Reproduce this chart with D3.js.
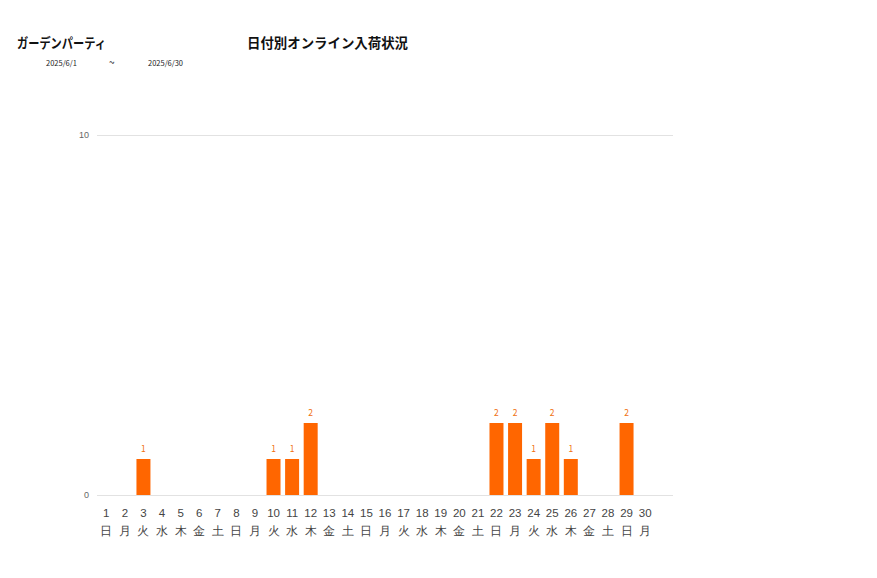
<!DOCTYPE html>
<html>
<head>
<meta charset="utf-8">
<script src="https://cdn.jsdelivr.net/npm/d3@7"></script>
<style>
  body { margin: 0; background: #fff; }
  svg { font-family: "Noto Sans CJK JP", "Noto Sans", sans-serif; }
</style>
</head>
<body>
<div id="chart"></div>
<script>
const shopName = "ガーデンパーティ";
const chartTitle = "日付別オンライン入荷状況";
const dateFrom = "2025/6/1";
const dateTo = "2025/6/30";

// 31 slots (month layout), last one empty
const days = ["1","2","3","4","5","6","7","8","9","10","11","12","13","14","15","16","17","18","19","20","21","22","23","24","25","26","27","28","29","30",""];
const weekdays = ["日","月","火","水","木","金","土","日","月","火","水","木","金","土","日","月","火","水","木","金","土","日","月","火","水","木","金","土","日","月",""];
const counts = [0,0,1,0,0,0,0,0,0,1,1,2,0,0,0,0,0,0,0,0,0,2,2,1,2,1,0,0,2,0,0];
const yTicks = [0, 10];

const width = 877,
  height = 578;
const margin = { left: 97, right: 204, top: 135, bottom: 83 };

const svg = d3
  .select("#chart")
  .append("svg")
  .attr("width", width)
  .attr("height", height);

const x = d3
  .scaleBand()
  .domain(d3.range(days.length))
  .range([margin.left, width - margin.right])
  .paddingInner(0.247)
  .paddingOuter(0.1235);

const y = d3
  .scaleLinear()
  .domain([0, 10])
  .range([height - margin.bottom, margin.top]);

// header
svg.append("text").attr("x", 17).attr("y", 48)
  .attr("font-size", 13.5).attr("font-weight", "bold").attr("fill", "#111")
  .attr("textLength", 89).attr("lengthAdjust", "spacingAndGlyphs")
  .text(shopName);
svg.append("text").attr("x", 247).attr("y", 48)
  .attr("font-size", 13.5).attr("font-weight", "bold").attr("fill", "#111")
  .attr("textLength", 161).attr("lengthAdjust", "spacingAndGlyphs")
  .text(chartTitle);
svg.append("text").attr("x", 46).attr("y", 66)
  .attr("font-size", 7.5).attr("fill", "#222").text(dateFrom);
svg.append("text").attr("x", 109).attr("y", 66)
  .attr("font-size", 10).attr("fill", "#222").text("~");
svg.append("text").attr("x", 148).attr("y", 66)
  .attr("font-size", 7.5).attr("fill", "#222").text(dateTo);

// y gridlines
const yAxis = svg.append("g")
  .attr("transform", `translate(${margin.left},0)`)
  .call(d3.axisLeft(y).tickValues(yTicks).tickSize(-(width - margin.left - margin.right)).tickPadding(8));
yAxis.select(".domain").remove();
yAxis.selectAll("line").attr("stroke", "#e2e2e2");
yAxis.selectAll("text").attr("font-size", 9).attr("fill", "#666");

// bars
svg.selectAll(".bar")
  .data(counts)
  .enter()
  .append("rect")
  .attr("class", "bar")
  .attr("x", (d, i) => x(i))
  .attr("width", x.bandwidth())
  .attr("y", d => y(d))
  .attr("height", d => y(0) - y(d))
  .attr("fill", "#ff6600");

// value labels above non-zero bars
counts.forEach((d, i) => {
  if (d > 0) {
    svg.append("text")
      .attr("class", "val")
      .attr("x", x(i) + x.bandwidth() / 2)
      .attr("y", y(d) - 7)
      .attr("font-size", 8.5)
      .attr("fill", "#f07010")
      .attr("text-anchor", "middle")
      .text(d);
  }
});

// x labels: day number + weekday
const xAxis = svg.append("g")
  .attr("transform", `translate(0,${y(0)})`)
  .call(d3.axisBottom(x).tickSize(0).tickFormat(""));
xAxis.select(".domain").remove();

const lab = xAxis.selectAll(".tick").append("g");
lab.append("text")
  .attr("y", 22)
  .attr("text-anchor", "middle")
  .attr("font-size", 11.5)
  .attr("fill", "#444")
  .text(i => days[i]);
lab.append("text")
  .attr("y", 40)
  .attr("text-anchor", "middle")
  .attr("font-size", 11.5)
  .attr("fill", "#444")
  .text(i => weekdays[i]);
</script>
</body>
</html>
